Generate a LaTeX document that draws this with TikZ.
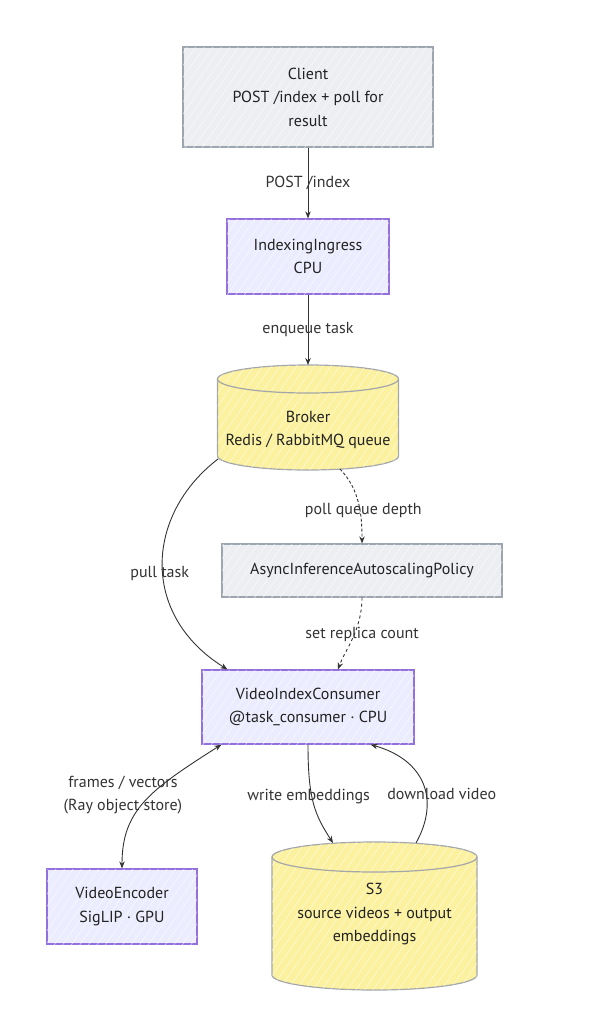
\documentclass[tikz,border=0pt]{standalone}
\usepackage{fontspec}
\setmainfont{PT Sans}
\usetikzlibrary{arrows.meta,calc,patterns.meta,backgrounds}
\definecolor{grayfill}{HTML}{ECEEF2}
\definecolor{grayline}{HTML}{9DA5AF}
\definecolor{lavfill}{HTML}{ECECFF}
\definecolor{lavline}{HTML}{9370DB}
\definecolor{yelfill}{HTML}{FBF19E}
\definecolor{cylline}{HTML}{A4A6AA}
\definecolor{ink}{HTML}{333333}
\definecolor{txtcol}{HTML}{222222}
\tikzset{
  hatch/.style={postaction={pattern={Lines[angle=55,distance=7pt,line width=0.7pt]},pattern color=white!100,opacity=0.55}},
  basebox/.style={line width=1.2pt, align=center, text=txtcol, inner sep=0pt,
    font=\fontsize{16}{23.5}\selectfont},
  graybox/.style={basebox, draw=grayline, fill=grayfill, hatch},
  lavbox/.style={basebox, draw=lavline, fill=lavfill, hatch},
  cyltext/.style={align=center, text=txtcol, inner sep=0pt, font=\fontsize{16}{23.5}\selectfont},
  cylshape/.style={draw=cylline, line width=1.2pt, fill=yelfill},
  conn/.style={draw=ink, line width=0.9pt, -{Stealth[length=7pt,width=5.5pt]}},
  lbl/.style={text=ink, inner sep=0pt, align=center, font=\fontsize{16}{23.5}\selectfont}
}
\begin{document}
\begin{tikzpicture}[x=1pt,y=-1pt]
\useasboundingbox (0,0) rectangle (602,1010);

% boxes
\node[graybox, minimum width=250pt, minimum height=100pt] (client) at (308,97) {Client\\POST /index + poll for\\result};
\node[lavbox, minimum width=162pt, minimum height=75pt] (ingress) at (308,256.5) {IndexingIngress\\CPU};
\node[cyltext] (broker) at (308,430) {Broker\\Redis / RabbitMQ queue};
\node[graybox, minimum width=280pt, minimum height=53pt] (policy) at (362,570.5) {AsyncInferenceAutoscalingPolicy};
\node[lavbox, minimum width=212pt, minimum height=74pt] (consumer) at (308,707) {VideoIndexConsumer\\@task\_consumer · CPU};
\node[lavbox, minimum width=150pt, minimum height=75pt] (encoder) at (122,906.5) {VideoEncoder\\SigLIP · GPU};
\node[cyltext] (s3) at (374.5,914) {S3\\source videos + output\\embeddings};

% cylinders
\begin{scope}[on background layer]
  \path[cylshape, hatch] ($(broker)+(-90.5,-51)$) -- ($(broker)+(-90.5,26)$)
     arc[start angle=180,end angle=360,x radius=90.5pt,y radius=14pt]
     -- ($(broker)+(90.5,-51)$)
     arc[start angle=0,end angle=180,x radius=90.5pt,y radius=14pt] -- cycle;
  \draw[draw=cylline, line width=1.2pt] ($(broker)+(-90.5,-51)$)
     arc[start angle=180,end angle=360,x radius=90.5pt,y radius=14pt];
  \path[cylshape, hatch] ($(s3)+(-102.5,-57)$) -- ($(s3)+(-102.5,61)$)
     arc[start angle=180,end angle=360,x radius=102.5pt,y radius=15pt]
     -- ($(s3)+(102.5,-57)$)
     arc[start angle=0,end angle=180,x radius=102.5pt,y radius=15pt] -- cycle;
  \draw[draw=cylline, line width=1.2pt] ($(s3)+(-102.5,-57)$)
     arc[start angle=180,end angle=360,x radius=102.5pt,y radius=15pt];
\end{scope}

% anchor coordinates on cylinders
\coordinate (brokertop) at ($(broker)+(0,-65)$);
\coordinate (brokerleft) at ($(broker)+(-90,29)$);
\coordinate (brokerbot) at ($(broker)+(32,39)$);
\coordinate (s3a) at ($(s3)+(-41.5,-71)$);
\coordinate (s3b) at ($(s3)+(41.5,-71)$);

% connectors
\draw[conn] (client) -- node[lbl]{POST /index} (ingress);
\draw[conn] (ingress) -- node[lbl]{enqueue task} (brokertop);
\draw[conn] (brokerleft) .. controls (145,515) and (140,615) .. node[lbl, pos=0.52, xshift=-3pt, yshift=-4pt]{pull task} ($(consumer.north west)+(26,0)$);
\draw[conn, densely dashed] (brokerbot) .. controls (360,490) and (362,515) .. node[lbl, pos=0.55, xshift=4pt, yshift=-3pt]{poll queue depth} (policy.north);
\draw[conn, dashed] (policy.south) .. controls (362,630) and (345,650) .. node[lbl, pos=0.45, xshift=8pt]{set replica count} ($(consumer.north)+(30,0)$);
\draw[conn, {Stealth[length=7pt,width=5.5pt]}-{Stealth[length=7pt,width=5.5pt]}] ($(consumer.south west)+(20,0)$) .. controls (150,790) and (122,810) .. node[lbl, pos=0.45, xshift=-27pt, yshift=1pt]{frames / vectors\\(Ray object store)} (encoder.north);
\draw[conn] (consumer.south) .. controls (308,800) and (315,815) .. node[lbl, pos=0.45, xshift=-4pt, yshift=3pt]{write embeddings} (s3a);
\draw[conn] (s3b) .. controls (440,800) and (425,760) .. node[lbl, pos=0.5, xshift=19pt, yshift=-10pt]{download video} ($(consumer.south east)+(-44,0)$);
\end{tikzpicture}
\end{document}
